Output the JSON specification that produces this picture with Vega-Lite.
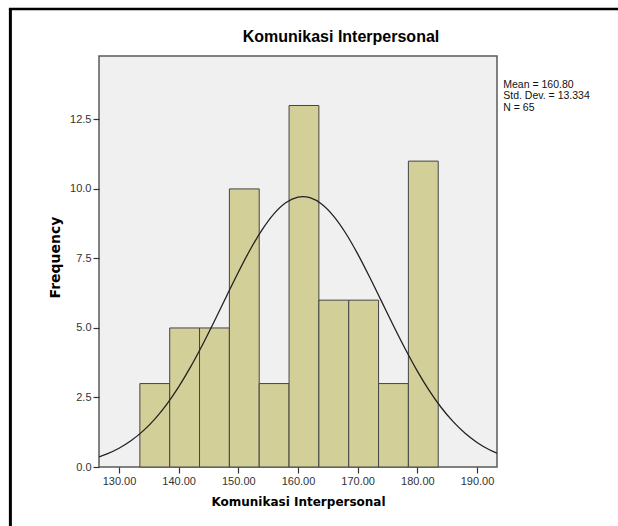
{
  "$schema": "https://vega.github.io/schema/vega-lite/v6.json",
  "width": 398,
  "height": 411,
  "autosize": {"type": "none"},
  "padding": {"left": 99, "top": 56, "right": 121, "bottom": 59},
  "background": "white",
  "title": {"text": "Komunikasi Interpersonal", "font": "Liberation Sans", "fontSize": 16, "fontWeight": "bold", "color": "#000000", "anchor": "middle", "dx": 43, "offset": -37},
  "config": {
    "view": {"fill": "#f0f0f0", "stroke": "#5a5a5a", "strokeWidth": 1.5},
    "axis": {"domain": false, "grid": false, "labelFont": "Liberation Sans", "labelFontSize": 11, "labelColor": "#333333", "tickColor": "#333333", "tickSize": 6, "tickWidth": 1.2, "labelPadding": 2, "titleFont": "DejaVu Sans", "titleFontWeight": "bold", "titleColor": "#000000"}
  },
  "datasets": {
    "hist": [
      {"bin_start": 133.5, "bin_end": 138.5, "count": 3},
      {"bin_start": 138.5, "bin_end": 143.5, "count": 5},
      {"bin_start": 143.5, "bin_end": 148.5, "count": 5},
      {"bin_start": 148.5, "bin_end": 153.5, "count": 10},
      {"bin_start": 153.5, "bin_end": 158.5, "count": 3},
      {"bin_start": 158.5, "bin_end": 163.5, "count": 13},
      {"bin_start": 163.5, "bin_end": 168.5, "count": 6},
      {"bin_start": 168.5, "bin_end": 173.5, "count": 6},
      {"bin_start": 173.5, "bin_end": 178.5, "count": 3},
      {"bin_start": 178.5, "bin_end": 183.5, "count": 11}
    ],
    "normal": [
      {"x": 126.65, "y": 0.366}, {"x": 128, "y": 0.472}, {"x": 130, "y": 0.675}, {"x": 132, "y": 0.944},
      {"x": 134, "y": 1.29}, {"x": 136, "y": 1.724}, {"x": 138, "y": 2.254}, {"x": 140, "y": 2.88},
      {"x": 142, "y": 3.599}, {"x": 144, "y": 4.397}, {"x": 146, "y": 5.252}, {"x": 148, "y": 6.134},
      {"x": 150, "y": 7.005}, {"x": 152, "y": 7.821}, {"x": 154, "y": 8.538}, {"x": 156, "y": 9.114},
      {"x": 158, "y": 9.512}, {"x": 160, "y": 9.707}, {"x": 160.8, "y": 9.724}, {"x": 162, "y": 9.685},
      {"x": 164, "y": 9.448}, {"x": 166, "y": 9.012}, {"x": 168, "y": 8.405}, {"x": 170, "y": 7.664},
      {"x": 172, "y": 6.833}, {"x": 174, "y": 5.957}, {"x": 176, "y": 5.078}, {"x": 178, "y": 4.232},
      {"x": 180, "y": 3.448}, {"x": 182, "y": 2.747}, {"x": 184, "y": 2.14}, {"x": 186, "y": 1.63},
      {"x": 188, "y": 1.214}, {"x": 190, "y": 0.884}, {"x": 192, "y": 0.63}, {"x": 193.35, "y": 0.494}
    ]
  },
  "layer": [
    {
      "data": {"name": "hist"},
      "mark": {"type": "rect", "fill": "#d3cf98", "stroke": "#444444", "strokeWidth": 1},
      "encoding": {
        "x": {"field": "bin_start", "type": "quantitative", "scale": {"domain": [126.65, 193.35], "nice": false, "zero": false},
              "axis": {"values": [130, 140, 150, 160, 170, 180, 190], "format": ".2f", "title": "Komunikasi Interpersonal", "titleFontSize": 12, "titlePadding": 10}},
        "x2": {"field": "bin_end"},
        "y": {"field": "count", "type": "quantitative", "scale": {"domain": [0, 14.78], "nice": false},
              "axis": {"values": [0, 2.5, 5, 7.5, 10, 12.5], "format": ".1f", "title": "Frequency", "titleFontSize": 14, "titlePadding": 7, "titleY": 201}}
      }
    },
    {
      "data": {"name": "normal"},
      "mark": {"type": "line", "color": "#222222", "strokeWidth": 1.3, "interpolate": "monotone", "clip": true},
      "encoding": {
        "x": {"field": "x", "type": "quantitative"},
        "y": {"field": "y", "type": "quantitative"}
      }
    },
    {
      "data": {"values": [{"label": "stats"}]},
      "mark": {"type": "text", "text": ["Mean = 160.80", "Std. Dev. = 13.334", "N = 65"], "align": "left", "baseline": "top", "font": "Liberation Sans", "fontSize": 10.5, "lineHeight": 11.3, "color": "#111111"},
      "encoding": {
        "x": {"datum": 194.4, "type": "quantitative"},
        "y": {"datum": 13.91, "type": "quantitative"}
      }
    },
    {
      "data": {"values": [{"label": "frame"}]},
      "mark": {"type": "rule", "color": "#000000", "strokeWidth": 3, "clip": false},
      "encoding": {
        "x": {"datum": 111.8, "type": "quantitative"},
        "y": {"datum": 16.47, "type": "quantitative"},
        "y2": {"datum": -2.5}
      }
    },
    {
      "data": {"values": [{"label": "frame"}]},
      "mark": {"type": "rule", "color": "#000000", "strokeWidth": 2.5, "clip": false},
      "encoding": {
        "x": {"datum": 111.55, "type": "quantitative"},
        "x2": {"datum": 215},
        "y": {"datum": 16.47, "type": "quantitative"}
      }
    }
  ]
}
